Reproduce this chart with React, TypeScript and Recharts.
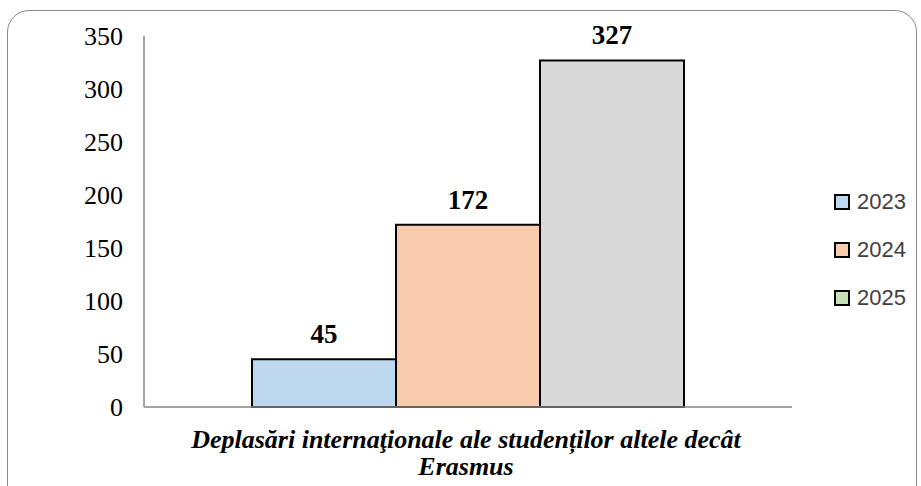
import React from "react"
import { BarChart, Bar, XAxis, YAxis, LabelList } from "recharts"

const category = "Deplasări internaţionale ale studenților altele decât Erasmus"
const categoryLines = ["Deplasări internaţionale ale studenților altele decât", "Erasmus"]
const years = ["2023", "2024", "2025"]
const values = [45, 172, 327]
const yTicks = [0, 50, 100, 150, 200, 250, 300, 350]

const barFills = ["#BDD7EE", "#F8CBAD", "#D9D9D9"]
const legendFills = ["#BDD7EE", "#F8CBAD", "#C5E0B4"]

const data = [
  years.reduce<Record<string, string | number>>(
    (row, y, i) => {
      row[y] = values[i]
      return row
    },
    { name: category }
  ),
]

const serif = "'Liberation Serif', 'Times New Roman', serif"

function CategoryTick(props: any) {
  const { x, y } = props
  return (
    <text
      x={x - 2}
      y={y}
      textAnchor="middle"
      fontFamily={serif}
      fontSize={26}
      fontWeight="bold"
      fontStyle="italic"
      fill="#000"
    >
      {categoryLines.map((line, i) => (
        <tspan key={i} x={x - 2} dy={i === 0 ? 41 : 27}>
          {line}
        </tspan>
      ))}
    </text>
  )
}

function YearLegend() {
  return (
    <div
      style={{
        position: "absolute",
        left: 834,
        top: 178,
        fontFamily: "'Liberation Sans', Arial, sans-serif",
        fontSize: 22,
        color: "#404040",
      }}
    >
      {years.map((y, i) => (
        <div key={y} style={{ display: "flex", alignItems: "center", height: 48 }}>
          <span
            style={{
              display: "inline-block",
              width: 16,
              height: 16,
              boxSizing: "border-box",
              background: legendFills[i],
              border: "2px solid #000",
              marginRight: 7,
            }}
          />
          {y}
        </div>
      ))}
    </div>
  )
}

export default function App() {
  return (
    <div style={{ position: "absolute", left: 0, top: 0, width: 921, height: 486, background: "#fff", overflow: "hidden" }}>
      <div
        style={{
          position: "absolute",
          left: 7,
          top: 10,
          width: 910,
          height: 500,
          border: "1.5px solid #8a8a8a",
          borderRadius: 22,
          boxSizing: "border-box",
        }}
      />
      <div style={{ position: "absolute", left: 0, top: 0 }}>
        <BarChart
          width={921}
          height={486}
          data={data}
          margin={{ top: 36, right: 129, bottom: 0, left: 0 }}
          barGap={0}
        >
          <XAxis
            dataKey="name"
            axisLine={{ stroke: "#868686", strokeWidth: 1.5 }}
            tickLine={false}
            tickSize={0}
            tickMargin={0}
            tick={<CategoryTick />}
            interval={0}
            height={79}
          />
          <YAxis
            domain={[0, 350]}
            ticks={yTicks}
            width={144}
            axisLine={{ stroke: "#868686", strokeWidth: 1.5 }}
            tickLine={false}
            tickSize={0}
            tickMargin={21}
            tick={{ fontFamily: serif, fontSize: 26, fill: "#000" }}
          />
          {years.map((y, i) => (
            <Bar
              key={y}
              dataKey={y}
              fill={barFills[i]}
              stroke="#000"
              strokeWidth={2}
              barSize={144}
              isAnimationActive={false}
            >
              <LabelList
                dataKey={y}
                position="top"
                offset={16}
                style={{ fontFamily: serif, fontSize: 27, fontWeight: "bold", fill: "#000" }}
              />
            </Bar>
          ))}
        </BarChart>
      </div>
      <YearLegend />
    </div>
  )
}
